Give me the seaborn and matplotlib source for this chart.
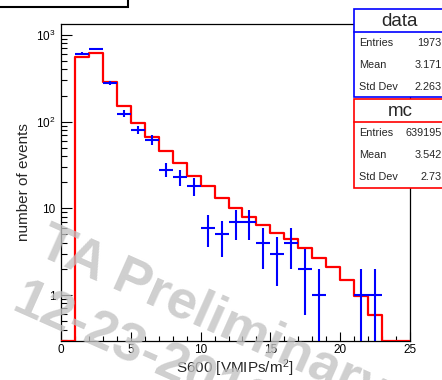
import numpy as np
import pandas as pd
import matplotlib
matplotlib.use("Agg")
import matplotlib.pyplot as plt
import matplotlib.ticker as mticker
from matplotlib.patches import Rectangle
from matplotlib.lines import Line2D
import seaborn as sns

# ---------------- data ----------------
bin_edges = list(range(0, 26))
mc_counts = [0, 562, 625, 289, 152, 97, 66, 45.8, 33, 23.6, 17.9, 13.3, 10.2,
             8.0, 6.4, 5.2, 4.4, 3.5, 2.7, 2.1, 1.5, 0.97, 0.59, 0, 0]
data_counts = [0, 605, 690, 280, 124, 81, 62, 28, 23, 18, 6, 5, 7, 7, 4, 3, 4,
               2, 1, 0, 0, 1, 1, 0, 0]
y_ticks = [1, 10, 100, 1000]
y_tick_labels = ["1", "10", "$10^{2}$", "$10^{3}$"]
x_label = "S600 [VMIPs/m$^{2}$]"
y_label = "number of events"
data_stats = [("Entries", "1973"), ("Mean", "3.171"), ("Std Dev", "2.263")]
mc_stats = [("Entries", "639195"), ("Mean", "3.542"), ("Std Dev", "2.73")]

# ---------------- style ----------------
sns.set_theme(style="ticks")
plt.rcParams["font.family"] = ["Liberation Sans", "DejaVu Sans"]
plt.rcParams["mathtext.fontset"] = "custom"
plt.rcParams["mathtext.rm"] = "Liberation Sans"
plt.rcParams["mathtext.it"] = "Liberation Sans:italic"

W, H = 442, 380
fig = plt.figure(figsize=(W / 100, H / 100), dpi=100)
fig.patch.set_facecolor("white")


def fx(x):
    return x / W


def fy(y):
    return 1 - y / H


ax = fig.add_axes([fx(61), fy(341), (410 - 61) / W, (341 - 23.5) / H])
ax.set_facecolor("white")
ax.set_yscale("log")
y_lo, y_hi = 0.2947, 1357

edges = np.array(bin_edges, dtype=float)
centers = (edges[:-1] + edges[1:]) / 2
mc = np.array(mc_counts, dtype=float)
dat = np.array(data_counts, dtype=float)

mc_df = pd.DataFrame({"x": centers, "w": np.clip(mc, y_lo, None)})
sns.histplot(data=mc_df, x="x", weights="w", bins=bin_edges, element="step",
             fill=False, color="red", linewidth=1.6, ax=ax, zorder=3)

nz = dat > 0
err = np.sqrt(dat[nz])
lower = np.minimum(err, dat[nz] - y_lo * 0.5)
ax.errorbar(centers[nz], dat[nz], xerr=0.5, yerr=[lower, err], fmt="none",
            ecolor="blue", elinewidth=1.5, capsize=0, zorder=4)

ax.set_xlim(0, 25)
ax.set_ylim(y_lo, y_hi)
ax.grid(False)

ax.xaxis.set_major_locator(mticker.MultipleLocator(5))
ax.xaxis.set_minor_locator(mticker.MultipleLocator(1))
ax.xaxis.set_major_formatter(mticker.FormatStrFormatter("%d"))
ax.yaxis.set_major_locator(mticker.FixedLocator(y_ticks))
ax.yaxis.set_major_formatter(mticker.FixedFormatter(y_tick_labels))
ax.yaxis.set_minor_locator(mticker.LogLocator(base=10, subs=np.arange(2, 10), numticks=20))
ax.yaxis.set_minor_formatter(mticker.NullFormatter())

ax.tick_params(axis="both", which="both", direction="in", top=False,
               right=False, color="black", width=0.8, labelsize=8.5,
               labelcolor="black")
ax.tick_params(axis="x", which="major", length=6.5, pad=2.5)
ax.tick_params(axis="x", which="minor", length=3.5)
ax.tick_params(axis="y", which="major", length=8, pad=4)
ax.tick_params(axis="y", which="minor", length=4)
for s in ax.spines.values():
    s.set_color("black")
    s.set_linewidth(0.9)
    s.set_visible(True)

ax.set_xlabel("")
ax.set_ylabel("")
fig.text(fx(235), fy(368), x_label, ha="center", va="center", fontsize=11)
fig.text(fx(24), fy(182), y_label, ha="center", va="center", rotation=90,
         fontsize=11)

# title box remnant at top-left
fig.patches.append(Rectangle((fx(-10), fy(7)), fx(138), 0.1,
                             transform=fig.transFigure, facecolor="white",
                             edgecolor="black", linewidth=1.5, zorder=5))


def stats_box(top, bottom, header_y, color, title, rows, row_ys):
    fig.patches.append(Rectangle((fx(354), fy(bottom)), fx(100), (bottom - top) / H,
                                 transform=fig.transFigure, facecolor="white",
                                 edgecolor=color, linewidth=1.2, zorder=5))
    fig.lines.append(Line2D([fx(354), fx(450)], [fy(header_y), fy(header_y)],
                            transform=fig.transFigure, color=color,
                            linewidth=1.2, zorder=6))
    fig.text(fx(400), fy((top + header_y) / 2 + 1), title, ha="center",
             va="center", fontsize=13.5, zorder=7)
    for (name, val), yy in zip(rows, row_ys):
        fig.text(fx(359), fy(yy), name, ha="left", va="center", fontsize=7.8,
                 zorder=7)
        fig.text(fx(441.5), fy(yy), val, ha="right", va="center",
                 fontsize=7.8, zorder=7)


stats_box(9.3, 96.7, 31.7, "blue", "data", data_stats, [43.3, 65.3, 87.3])
stats_box(99.3, 188, 121.7, "red", "mc", mc_stats, [133.3, 155.3, 176.7])

# watermark
ang = 24.0
rad = np.deg2rad(ang)
up = np.array([np.sin(rad), -np.cos(rad)])
a1 = np.array([35.0, 254.0])
a2 = a1 - 62 * up
wm_kw = dict(rotation=-ang, rotation_mode="anchor", ha="left", va="baseline",
             fontsize=39, fontweight="bold", color=(0.76, 0.76, 0.76),
             alpha=0.78, zorder=10)
fig.text(fx(a1[0]), fy(a1[1]), "TA Preliminary", **wm_kw)
fig.text(fx(a2[0]), fy(a2[1]), "12-23-2019", **wm_kw)

fig.savefig("out.png", dpi=100, facecolor="white")
